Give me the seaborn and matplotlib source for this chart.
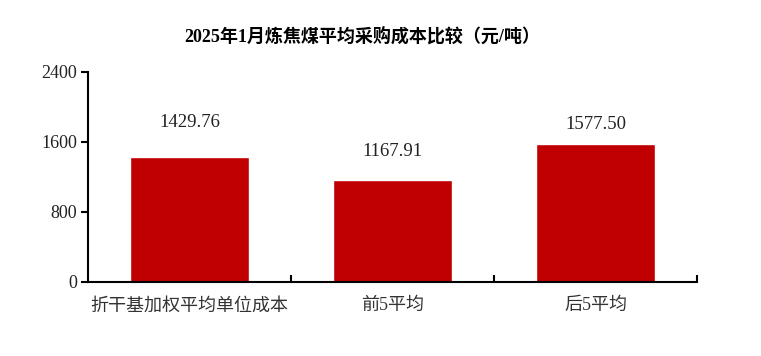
import matplotlib
matplotlib.use("Agg")
import matplotlib.pyplot as plt
import seaborn as sns
import pandas as pd
from matplotlib.ticker import FixedLocator

categories = ["折干基加权平均单位成本", "前5平均", "后5平均"]
values = [1429.76, 1167.91, 1577.50]
yticks = [0, 800, 1600, 2400]
title = "2025年1月炼焦煤平均采购成本比较（元/吨）"

# style: vertical offset (points) of each value label above its bar
label_offsets = [24.8, 20.2, 13.7]

sns.set_theme(style="white")
fam = ["Liberation Serif", "Noto Sans CJK SC", "DejaVu Sans"]
plt.rcParams["font.family"] = fam

df = pd.DataFrame({"cat": categories, "val": values})

fig = plt.figure(figsize=(7.61, 3.56), dpi=100)
ax = fig.add_axes([88/761, 74/356, (697-88)/761, (282-72)/356])
sns.barplot(data=df, x="cat", y="val", color="#C00000", width=0.59,
            saturation=1, ax=ax, errorbar=None)

ax.set_ylim(0, 2400)
ax.set_xlim(-0.5, 2.5)
ax.set_yticks(yticks)
ax.set_yticklabels([str(t) for t in yticks], fontsize=13, color="#222222")
ax.tick_params(axis="y", direction="out", length=5, width=1.5, color="black", pad=3, left=True)
ax.tick_params(axis="x", which="major", length=0, pad=11)
ax.set_xticks(range(len(categories)))
ax.set_xticklabels(categories, fontsize=13, color="#333333")
ax.xaxis.set_minor_locator(FixedLocator([0.5, 1.5, 2.5]))
ax.tick_params(axis="x", which="minor", direction="in", length=5, width=1.5, color="black", bottom=True)
ax.set_xlabel("")
ax.set_ylabel("")

for s in ["top", "right"]:
    ax.spines[s].set_visible(False)
for s in ["left", "bottom"]:
    ax.spines[s].set_color("black")
    ax.spines[s].set_linewidth(1.5)

for i, v in enumerate(values):
    ax.annotate(f"{v:.2f}", (i, v), xytext=(0, label_offsets[i]), textcoords="offset points",
                ha="center", va="center", fontsize=13.5, color="#222222")

fig.text(362.5/761, 1 - 36/356, title, ha="center", va="center", fontsize=13,
         fontweight="bold", color="black")

fig.savefig("out.png", dpi=100)
